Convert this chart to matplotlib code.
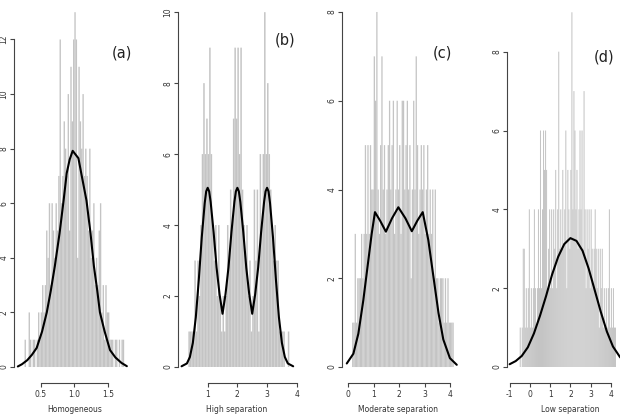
import numpy as np
import matplotlib
matplotlib.use("Agg")
import matplotlib.pyplot as plt

# histogram counts (bin start, bin width, counts)
homog_start, homog_width = 0.26, 0.02
homog_counts = [1, 0, 0, 2, 1, 0, 1, 1, 0, 1, 2, 1, 2, 3, 2, 3, 5, 4, 6, 3,
                6, 5, 4, 6, 5, 7, 12, 6, 7, 9, 8, 7, 10, 5, 11, 9, 12, 13, 12, 4,
                11, 9, 8, 10, 7, 8, 7, 5, 8, 4, 5, 6, 3, 4, 3, 5, 6, 2, 3, 1,
                3, 2, 2, 1, 1, 1, 0, 1, 1, 0, 1, 0, 1, 1]
high_start, high_width = 0.30, 0.05
high_counts = [0, 1, 1, 1, 1, 3, 1, 3, 2, 4, 6, 8, 6, 7, 6, 9, 6, 4, 3, 4,
               2, 4, 2, 1, 2, 1, 2, 4, 3, 5, 4, 7, 9, 7, 9, 6, 9, 5, 4, 3,
               4, 2, 3, 1, 2, 5, 3, 5, 1, 6, 4, 6, 10, 6, 8, 6, 5, 4, 3, 4,
               3, 3, 1, 1, 1, 1, 0, 0, 1, 0]
mod_start, mod_width = 0.15, 0.05
mod_counts = [1, 1, 3, 1, 2, 2, 2, 3, 2, 3, 5, 3, 5, 3, 5, 4, 4, 7, 6, 8,
              4, 3, 5, 7, 4, 5, 3, 4, 5, 6, 4, 5, 6, 3, 4, 6, 4, 5, 3, 6,
              6, 4, 5, 6, 4, 5, 2, 4, 6, 4, 7, 5, 3, 4, 5, 4, 5, 3, 4, 5,
              3, 4, 3, 4, 2, 4, 2, 2, 1, 2, 2, 2, 1, 2, 1, 2, 1, 1, 1, 1, 0]
low_start, low_width = -0.50, 0.05
low_counts = [1, 0, 1, 3, 3, 1, 2, 1, 2, 4, 1, 2, 1, 2, 4, 2, 1, 2, 4, 2,
              6, 2, 4, 6, 5, 6, 5, 2, 3, 4, 2, 4, 2, 4, 3, 5, 2, 4, 8, 3,
              4, 3, 5, 3, 4, 6, 2, 5, 4, 3, 5, 9, 4, 7, 6, 4, 5, 3, 4, 6,
              4, 6, 3, 7, 4, 2, 4, 3, 4, 2, 4, 3, 2, 3, 4, 3, 2, 3, 1, 3,
              2, 3, 1, 2, 1, 2, 1, 2, 4, 1, 2, 1, 2, 1, 1]

# density curves (scaled to counts)
homog_cx = [0.16, 0.22, 0.30, 0.37, 0.44, 0.52, 0.59, 0.65, 0.71, 0.78, 0.84, 0.886, 0.93,
            0.975, 1.06, 1.11, 1.18, 1.24, 1.29, 1.34, 1.38, 1.45, 1.53, 1.61, 1.70, 1.78]
homog_cy = [0.02, 0.1, 0.25, 0.45, 0.7, 1.3, 2.0, 2.8, 3.7, 4.9, 6.1, 7.1, 7.6,
            7.92, 7.65, 7.0, 6.1, 4.9, 3.7, 2.8, 2.0, 1.3, 0.62, 0.35, 0.15, 0.03]
high_cx = [0.12, 0.3, 0.4, 0.5, 0.6, 0.7, 0.8, 0.9, 0.95, 1.0, 1.05, 1.1, 1.2, 1.3, 1.4,
           1.5, 1.6, 1.7, 1.8, 1.9, 1.95, 2.0, 2.05, 2.1, 2.2, 2.3, 2.4, 2.5, 2.6, 2.7,
           2.8, 2.9, 2.95, 3.0, 3.05, 3.1, 3.2, 3.3, 3.4, 3.5, 3.6, 3.7, 3.88]
high_cy = [0.02, 0.1, 0.28, 0.68, 1.4, 2.45, 3.65, 4.62, 4.95, 5.05, 4.95, 4.65, 3.8, 2.8, 2.05,
           1.5, 2.05, 2.8, 3.8, 4.65, 4.95, 5.05, 4.95, 4.65, 3.8, 2.8, 2.05, 1.5, 2.05, 2.8,
           3.8, 4.65, 4.95, 5.05, 4.95, 4.62, 3.65, 2.45, 1.4, 0.68, 0.28, 0.1, 0.02]
mod_cx = [-0.06, 0.20, 0.395, 0.59, 0.79, 0.92, 1.05, 1.25, 1.48, 1.72, 1.97, 2.25, 2.5,
          2.72, 2.93, 3.15, 3.35, 3.55, 3.74, 4.0, 4.27]
mod_cy = [0.08, 0.30, 0.75, 1.5, 2.41, 3.0, 3.49, 3.3, 3.05, 3.35, 3.6, 3.35, 3.06,
          3.3, 3.49, 2.86, 2.04, 1.22, 0.62, 0.2, 0.05]
low_cx = [-1.0, -0.7, -0.4, -0.1, 0.2, 0.5, 0.8, 1.1, 1.4, 1.7, 2.0, 2.3, 2.6, 2.9, 3.2,
          3.5, 3.8, 4.1, 4.45, 4.8]
low_cy = [0.07, 0.15, 0.28, 0.5, 0.85, 1.3, 1.8, 2.35, 2.8, 3.12, 3.27, 3.2, 2.95, 2.5, 1.95,
          1.4, 0.9, 0.52, 0.25, 0.1]

panels = [
    dict(start=homog_start, width=homog_width, counts=homog_counts, cx=homog_cx, cy=homog_cy,
         xticks=[0.5, 1.0, 1.5], xticklabels=["0.5", "1.0", "1.5"], yticks=[0, 2, 4, 6, 8, 10, 12],
         xlabel="Homogeneous", tag="(a)"),
    dict(start=high_start, width=high_width, counts=high_counts, cx=high_cx, cy=high_cy,
         xticks=[1, 2, 3, 4], xticklabels=["1", "2", "3", "4"], yticks=[0, 2, 4, 6, 8, 10],
         xlabel="High separation", tag="(b)"),
    dict(start=mod_start, width=mod_width, counts=mod_counts, cx=mod_cx, cy=mod_cy,
         xticks=[0, 1, 2, 3, 4], xticklabels=["0", "1", "2", "3", "4"], yticks=[0, 2, 4, 6, 8],
         xlabel="Moderate separation", tag="(c)"),
    dict(start=low_start, width=low_width, counts=low_counts, cx=low_cx, cy=low_cy,
         xticks=[-1, 0, 1, 2, 3, 4], xticklabels=["-1", "0", "1", "2", "3", "4"],
         yticks=[0, 2, 4, 6, 8], xlabel="Low separation", tag="(d)"),
]

# layout in pixels: axes left/right, xlim, ylim, tag position, xlabel centre
W, H = 620, 416
layout = [
    dict(left=14, right=135, xlim=(0.103, 1.901), ylim=(-0.586, 13.30), tag=(122, 53), lab=75),
    dict(left=178, right=300, xlim=(0.0, 4.11), ylim=(-0.451, 10.23), tag=(285, 40), lab=237),
    dict(left=342, right=462, xlim=(-0.248, 4.476), ylim=(-0.360, 8.18), tag=(442, 53), lab=398),
    dict(left=507, right=633, xlim=(-1.128, 5.09), ylim=(-0.406, 9.21), tag=(604, 57), lab=570),
]

fig = plt.figure(figsize=(W / 100, H / 100), dpi=100)
bottom_px, top_px = 383, 4

for p, lay in zip(panels, layout):
    ax = fig.add_axes([lay["left"] / W, 1 - bottom_px / H,
                       (lay["right"] - lay["left"]) / W, (bottom_px - top_px) / H])
    counts = np.array(p["counts"])
    centers = p["start"] + p["width"] * (np.arange(len(counts)) + 0.5)
    bars = ax.bar(centers, counts, width=p["width"], color="#c4c4c4", linewidth=0)
    for b in bars:
        b.set_snap(False)
    ax.plot(p["cx"], p["cy"], color="black", lw=1.5, solid_capstyle="round")
    ax.set_xlim(*lay["xlim"])
    ax.set_ylim(*lay["ylim"])
    for s in ["top", "right"]:
        ax.spines[s].set_visible(False)
    ax.spines["bottom"].set_bounds(p["xticks"][0], p["xticks"][-1])
    ax.spines["left"].set_bounds(p["yticks"][0], p["yticks"][-1])
    for s in ["bottom", "left"]:
        ax.spines[s].set_color("#444444")
        ax.spines[s].set_linewidth(0.8)
    ax.set_xticks(p["xticks"])
    ax.set_xticklabels(p["xticklabels"])
    ax.set_yticks(p["yticks"])
    ax.set_yticklabels([str(v) for v in p["yticks"]], rotation=90, va="center")
    ax.tick_params(axis="both", length=3, width=0.8, color="#444444", labelsize=5.5,
                   labelcolor="#333333", pad=2)
    ax.tick_params(axis="y", pad=1)
    ax.patch.set_alpha(0)
    fig.text(lay["tag"][0] / W, 1 - lay["tag"][1] / H, p["tag"], fontsize=10.5,
             ha="center", va="center", color="#222222")
    fig.text(lay["lab"] / W, 1 - 410 / H, p["xlabel"], fontsize=5.5,
             ha="center", va="center", color="#333333")

fig.savefig("out.png", dpi=100)
